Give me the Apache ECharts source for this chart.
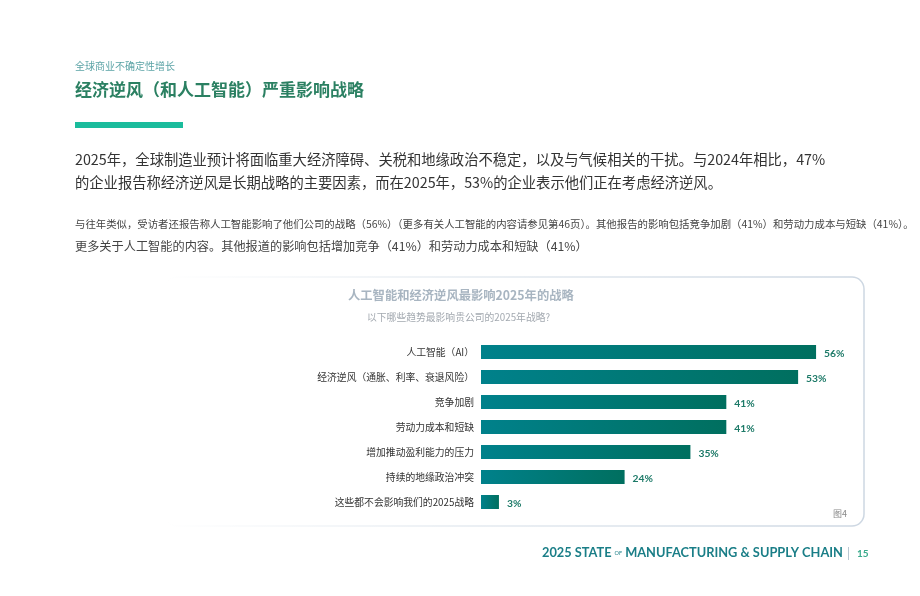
<!DOCTYPE html>
<html>
<head>
<meta charset="utf-8">
<script src="https://cdn.jsdelivr.net/npm/echarts@6/dist/echarts.min.js"></script>
<style>
html, body { margin: 0; padding: 0; background: #ffffff; }
#main { width: 920px; height: 596px; }
</style>
</head>
<body>
<div id="main"></div>
<script>
var categories = [
    "人工智能（AI）",
    "经济逆风（通胀、利率、衰退风险）",
    "竞争加剧",
    "劳动力成本和短缺",
    "增加推动盈利能力的压力",
    "持续的地缘政治冲突",
    "这些都不会影响我们的2025战略"
];
var values = [56, 53, 41, 41, 35, 24, 3];

var cjk = '"Noto Sans CJK SC", "Noto Sans", sans-serif';

var chartDom = document.getElementById("main");
var myChart = window.echarts.init(chartDom);

var option = {
    backgroundColor: "#ffffff",
    animation: false,
    grid: {
        left: 481,
        right: 80,
        top: 339.5,
        height: 175,
        containLabel: false
    },
    xAxis: {
        type: "value",
        min: 0,
        max: 60,
        show: false
    },
    yAxis: {
        type: "category",
        data: categories,
        inverse: true,
        axisLine: { show: false },
        axisTick: { show: false },
        axisLabel: {
            color: "#333333",
            fontSize: 9.8,
            fontFamily: cjk,
            margin: 7
        }
    },
    series: [
        {
            type: "bar",
            data: values,
            barWidth: 14,
            itemStyle: {
                color: new echarts.graphic.LinearGradient(0, 0, 1, 0, [
                    { offset: 0, color: "#00818b" },
                    { offset: 1, color: "#006f5f" }
                ])
            },
            label: {
                show: true,
                position: "right",
                distance: 8,
                offset: [0, 2],
                formatter: "{c}%",
                color: "#1d7a68",
                fontSize: 10.3,
                fontWeight: "bold",
                fontFamily: "Lato, sans-serif"
            }
        }
    ],
    graphic: [
        // 图表外框
        {
            type: "rect",
            z: -10,
            shape: { x: 165, y: 277, width: 699, height: 249, r: 12 },
            style: {
                fill: "#ffffff",
                stroke: new echarts.graphic.LinearGradient(0, 0, 1, 0, [
                    { offset: 0, color: "rgba(210,220,230,0)" },
                    { offset: 0.45, color: "rgba(210,220,230,0.6)" },
                    { offset: 1, color: "#cdd7e2" }
                ]),
                lineWidth: 1.5
            }
        },
        {
            type: "text",
            left: 75,
            top: 61,
            style: { text: "全球商业不确定性增长", fill: "#5ba3a6", fontSize: 10, fontFamily: cjk }
        },
        {
            type: "text",
            left: 75,
            top: 81,
            style: { text: "经济逆风（和人工智能）严重影响战略", fill: "#2b8062", fontSize: 17, fontWeight: "bold", fontFamily: cjk }
        },
        {
            type: "rect",
            shape: { x: 75, y: 122, width: 108, height: 6 },
            style: { fill: "#1abc9c" }
        },
        {
            type: "text",
            left: 75,
            top: 148,
            style: {
                text: "2025年，全球制造业预计将面临重大经济障碍、关税和地缘政治不稳定，以及与气候相关的干扰。与2024年相比，47%\n的企业报告称经济逆风是长期战略的主要因素，而在2025年，53%的企业表示他们正在考虑经济逆风。",
                fill: "#333333",
                fontSize: 14.3,
                lineHeight: 23,
                fontFamily: cjk
            }
        },
        {
            type: "text",
            left: 75,
            top: 219,
            style: {
                text: "与往年类似，受访者还报告称人工智能影响了他们公司的战略（56%）（更多有关人工智能的内容请参见第46页）。其他报告的影响包括竞争加剧（41%）和劳动力成本与短缺（41%）。",
                fill: "#444444",
                fontSize: 10.4,
                fontFamily: cjk
            }
        },
        {
            type: "text",
            left: 75,
            top: 240,
            style: {
                text: "更多关于人工智能的内容。其他报道的影响包括增加竞争（41%）和劳动力成本和短缺（41%）",
                fill: "#444444",
                fontSize: 12.2,
                fontFamily: cjk
            }
        },
        {
            type: "text",
            left: 348,
            top: 289,
            style: { text: "人工智能和经济逆风最影响2025年的战略", fill: "#a8b5c1", fontSize: 12.3, fontWeight: "bold", fontFamily: cjk }
        },
        {
            type: "text",
            left: 367,
            top: 312,
            style: { text: "以下哪些趋势最影响贵公司的2025年战略?", fill: "#a3a9b0", fontSize: 9.8, fontFamily: cjk }
        },
        {
            type: "text",
            left: 833,
            top: 509,
            style: { text: "图4", fill: "#8a8a8a", fontSize: 9, fontFamily: cjk }
        },
        {
            type: "text",
            left: 542,
            top: 546,
            style: {
                text: "{a|2025 STATE}{of|OF}{a|MANUFACTURING & SUPPLY CHAIN}",
                rich: {
                    a: { fill: "#1a7e87", fontSize: 12.8, fontWeight: "bold", fontFamily: "Lato, sans-serif" },
                    of: {
                        fill: "#1a7e87", fontSize: 5.5, fontFamily: "Lato, sans-serif",
                        padding: [1, 3, 0, 3]
                    }
                }
            }
        },
        {
            type: "rect",
            shape: { x: 848, y: 547, width: 1, height: 13 },
            style: { fill: "#b9c7d2" }
        },
        {
            type: "text",
            left: 857,
            top: 549,
            style: { text: "15", fill: "#3aaa8c", fontSize: 10, fontWeight: "bold", fontFamily: "Lato, sans-serif" }
        }
    ]
};
myChart.setOption(option);
</script>
</body>
</html>
